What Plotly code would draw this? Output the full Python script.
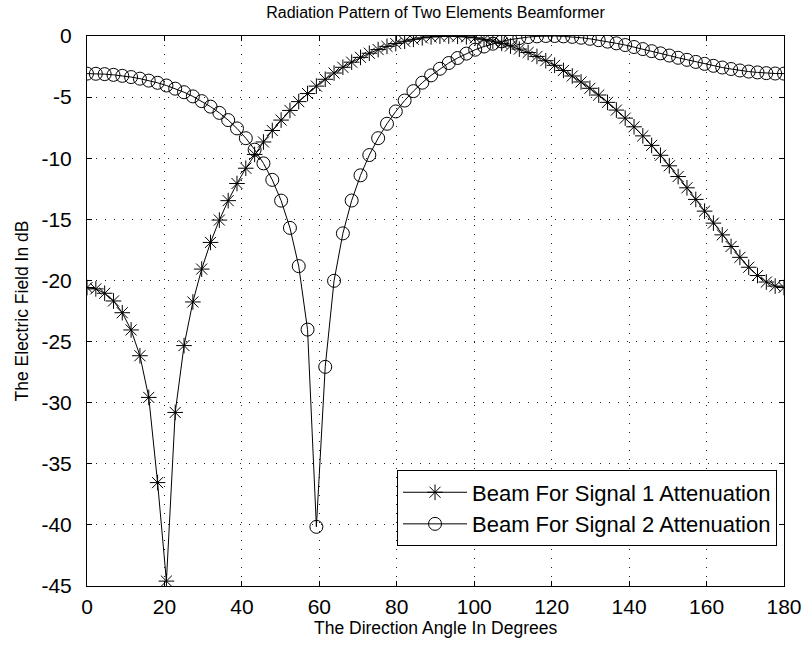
import plotly.graph_objects as go

angle_deg = [0.00, 2.28, 4.56, 6.84, 9.11, 11.39, 13.67, 15.95, 18.23, 20.51,
             22.78, 25.06, 27.34, 29.62, 31.90, 34.18, 36.46, 38.73, 41.01, 43.29,
             45.57, 47.85, 50.13, 52.41, 54.68, 56.96, 59.24, 61.52, 63.80, 66.08,
             68.35, 70.63, 72.91, 75.19, 77.47, 79.75, 82.03, 84.30, 86.58, 88.86,
             91.14, 93.42, 95.70, 97.97, 100.25, 102.53, 104.81, 107.09, 109.37, 111.65,
             113.92, 116.20, 118.48, 120.76, 123.04, 125.32, 127.59, 129.87, 132.15, 134.43,
             136.71, 138.99, 141.27, 143.54, 145.82, 148.10, 150.38, 152.66, 154.94, 157.22,
             159.49, 161.77, 164.05, 166.33, 168.61, 170.89, 173.16, 175.44, 177.72, 180.00]

beam1_db = [-20.58, -20.69, -21.05, -21.68, -22.64, -24.05, -26.16, -29.57, -36.54, -44.60,
            -30.80, -25.33, -21.76, -19.07, -16.89, -15.06, -13.47, -12.07, -10.82, -9.69,
            -8.67, -7.73, -6.88, -6.09, -5.37, -4.71, -4.10, -3.54, -3.03, -2.56,
            -2.14, -1.75, -1.41, -1.11, -0.85, -0.62, -0.43, -0.27, -0.15, -0.07,
            -0.02, 0.00, -0.02, -0.07, -0.15, -0.27, -0.42, -0.60, -0.82, -1.07,
            -1.35, -1.67, -2.02, -2.40, -2.82, -3.27, -3.76, -4.28, -4.83, -5.43,
            -6.06, -6.72, -7.43, -8.17, -8.95, -9.76, -10.62, -11.50, -12.42, -13.37,
            -14.33, -15.31, -16.27, -17.22, -18.11, -18.92, -19.60, -20.13, -20.46, -20.58]

beam2_db = [-3.08, -3.09, -3.12, -3.18, -3.26, -3.36, -3.49, -3.65, -3.83, -4.05,
            -4.31, -4.60, -4.94, -5.33, -5.78, -6.29, -6.88, -7.56, -8.36, -9.30,
            -10.42, -11.77, -13.47, -15.70, -18.83, -24.02, -40.16, -27.07, -20.03, -16.15,
            -13.46, -11.40, -9.74, -8.36, -7.18, -6.17, -5.28, -4.51, -3.82, -3.22,
            -2.68, -2.21, -1.80, -1.44, -1.12, -0.86, -0.63, -0.44, -0.29, -0.17,
            -0.09, -0.03, 0.00, 0.00, -0.03, -0.07, -0.14, -0.23, -0.34, -0.46,
            -0.60, -0.74, -0.90, -1.07, -1.24, -1.42, -1.60, -1.78, -1.95, -2.12,
            -2.28, -2.44, -2.58, -2.70, -2.82, -2.91, -2.98, -3.04, -3.07, -3.08]

series_names = ["Beam For Signal 1 Attenuation", "Beam For Signal 2 Attenuation"]

x_tick_vals = [0, 20, 40, 60, 80, 100, 120, 140, 160, 180]
x_tick_labels = ["0", "20", "40", "60", "80", "100", "120", "140", "160", "180"]
y_tick_vals = [-45, -40, -35, -30, -25, -20, -15, -10, -5, 0]
y_tick_labels = ["-45", "-40", "-35", "-30", "-25", "-20", "-15", "-10", "-5", "0"]

title_text = "Radiation Pattern of Two Elements Beamformer"
x_title = "The Direction Angle In Degrees"
y_title = "The Electric Field In dB"

FONT = "Liberation Sans, Arial, Helvetica, sans-serif"

fig = go.Figure()
fig.add_trace(go.Scatter(
    x=angle_deg, y=beam1_db, mode="lines+markers", name=series_names[0],
    line=dict(color="black", width=1),
    marker=dict(symbol="asterisk-open", size=13, color="black",
                line=dict(color="black", width=1)),
))
fig.add_trace(go.Scatter(
    x=angle_deg, y=beam2_db, mode="lines+markers", name=series_names[1],
    line=dict(color="black", width=1),
    marker=dict(symbol="circle-open", size=13, color="black",
                line=dict(color="black", width=1)),
))

axis_common = dict(
    showline=True, linecolor="black", linewidth=1, mirror="ticks",
    ticks="inside", ticklen=5, tickcolor="black", tickwidth=1,
    showgrid=True, gridcolor="#222222", gridwidth=1, griddash="1px,8px",
    zeroline=False, automargin=False,
    tickfont=dict(family=FONT, size=21, color="black"),
)

fig.update_layout(
    width=807, height=647,
    paper_bgcolor="white", plot_bgcolor="white",
    margin=dict(l=87, r=23, t=36, b=61),
    font=dict(family=FONT, size=17, color="black"),
    title=dict(text=title_text, x=0.5, xref="paper", xanchor="center",
               y=1 - 12 / 647, yref="container", yanchor="middle",
               font=dict(family=FONT, size=16, color="black")),
    xaxis=dict(range=[0, 180], tickvals=x_tick_vals, ticktext=x_tick_labels,
               ticklabelstandoff=2, **axis_common),
    yaxis=dict(range=[-45, 0], tickvals=y_tick_vals, ticktext=y_tick_labels,
               ticklabelstandoff=10,
               title=dict(text=y_title, standoff=8, font=dict(family=FONT, size=17.5)),
               **axis_common),
    annotations=[dict(text=x_title, xref="paper", yref="paper", x=0.5, y=-42 / 550,
                      xanchor="center", yanchor="middle", showarrow=False,
                      font=dict(family=FONT, size=17.5, color="black"))],
    showlegend=True,
    legend=dict(x=0.99, y=0.141, xanchor="right", yanchor="middle",
                bgcolor="white", bordercolor="black", borderwidth=1,
                font=dict(family=FONT, size=22, color="black"),
                itemwidth=64, tracegroupgap=0),
)

fig.write_html("out.html", config={"displayModeBar": False},
               post_script="document.body.style.margin='0';document.body.style.padding='0';")
